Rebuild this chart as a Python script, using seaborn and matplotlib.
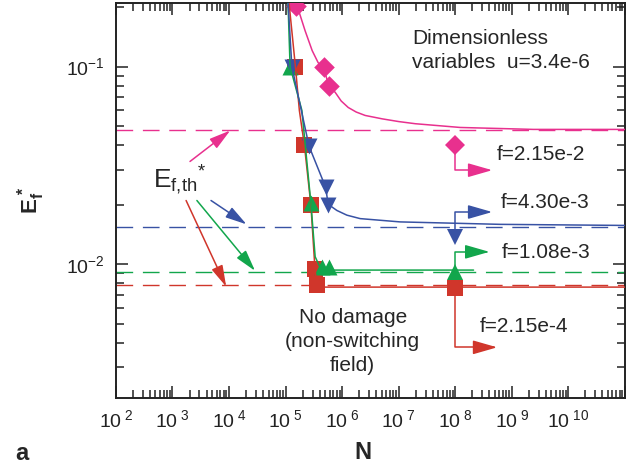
import numpy as np
import pandas as pd
import seaborn as sns
import matplotlib.pyplot as plt
from matplotlib.ticker import FixedLocator, LogLocator, NullFormatter

# ---- data (N, E_f*) ----
red_N = [1.14e5, 1.49e5, 1.75e5, 2.15e5, 2.8e5, 3.3e5, 3.55e5, 5.0e5, 1e11]
red_E = [0.215, 0.1, 0.060, 0.0399, 0.0199, 0.0095, 0.00783, 0.00765, 0.00765]
red_mk_N = [1.49e5, 2.15e5, 2.8e5, 3.3e5, 3.55e5]
red_mk_E = [0.1, 0.0399, 0.0199, 0.0095, 0.00783]

green_N = [1.1e5, 1.2e5, 1.94e5, 2.8e5, 3.33e5, 4.08e5, 6.1e5, 2.1e8]
green_E = [0.215, 0.1, 0.060, 0.0203, 0.0109, 0.0096, 0.00933, 0.00933]
green_mk_N = [1.2e5, 2.8e5, 4.4e5, 5.9e5]
green_mk_E = [0.1, 0.0203, 0.0097, 0.0097]

blue_N = [1.1e5, 1.29e5, 2.6e5, 5.1e5, 5.65e5, 8.05e5, 1.21e6, 2.08e6, 1.06e7, 6.3e8, 1e11]
blue_E = [0.215, 0.1, 0.0395, 0.0245, 0.0201, 0.0187, 0.0177, 0.0170, 0.01636, 0.0159, 0.0157]
blue_mk_N = [1.29e5, 2.6e5, 5.1e5, 5.7e5]
blue_mk_E = [0.1, 0.0395, 0.0245, 0.0199]

pink_N = [1.45e5, 1.6e5, 2.21e5, 2.95e5, 3.76e5, 4.61e5, 5.89e5, 7.5e5, 9.6e5, 1.28e6,
          1.77e6, 2.55e6, 5.1e6, 1.0e7, 1.96e7, 1.22e8, 2.4e9, 1e11]
pink_E = [0.23, 0.203, 0.152, 0.1205, 0.1047, 0.1, 0.0792, 0.0742, 0.0670, 0.0621,
          0.0589, 0.0566, 0.0544, 0.0527, 0.0514, 0.0492, 0.0481, 0.0481]
pink_mk_N = [1.55e5, 4.7e5, 5.9e5]
pink_mk_E = [0.203, 0.1, 0.0796]

# threshold levels E_f,th*
thresholds = {"pink": 0.0475, "blue": 0.01546, "green": 0.00914, "red": 0.00783}

# key markers at N=1e8 with elbow arrows to labels
key_N = 1e8
key_E = {"pink": 0.0399, "blue": 0.0138, "green": 0.0091, "red": 0.0076}
elbow_E = {"pink": 0.0299, "blue": 0.01836, "green": 0.01154, "red": 0.00379}
tip_N = {"pink": 4.5e8, "blue": 4.5e8, "green": 4.0e8, "red": 5.5e8}
labels = {"pink": "f=2.15e-2", "blue": "f=4.30e-3", "green": "f=1.08e-3", "red": "f=2.15e-4"}
label_pos = {"pink": (5.4e8, 0.0360), "blue": (6.25e8, 0.0206),
             "green": (6.5e8, 0.0115), "red": (2.76e8, 0.00481)}

# arrows from the E_f,th* label to the threshold lines
th_start = {"pink": (2.04e3, 0.0331), "blue": (4.8e3, 0.0210),
            "green": (2.7e3, 0.0210), "red": (1.74e3, 0.0210)}
th_end = {"pink": (1.05e4, 0.0475), "blue": (2.04e4, 0.0159),
          "green": (2.88e4, 0.00925), "red": (8.9e3, 0.00769)}

colors = {"pink": "#E8308E", "blue": "#3852A4", "green": "#12A64C", "red": "#D0362B"}
markers = {"pink": "D", "blue": "v", "green": "^", "red": "s"}
msize = {"pink": 10.5, "blue": 11.5, "green": 11.5, "red": 11.3}

x_ticks = [10.0 ** k for k in range(2, 11)]
y_ticks = [1e-2, 1e-1]

sns.set_theme(style="ticks")
plt.rcParams["font.family"] = ["Liberation Sans", "DejaVu Sans"]
plt.rcParams["mathtext.fontset"] = "custom"
plt.rcParams["mathtext.rm"] = "Liberation Sans"
plt.rcParams["mathtext.it"] = "Liberation Sans:italic"
plt.rcParams["mathtext.bf"] = "Liberation Sans:bold"

fig = plt.figure(figsize=(6.44, 4.68), dpi=100)
ax = fig.add_axes([0.180, 0.1496, 0.7905, 0.844])

series = {
    "red": (red_N, red_E, red_mk_N, red_mk_E),
    "green": (green_N, green_E, green_mk_N, green_mk_E),
    "blue": (blue_N, blue_E, blue_mk_N, blue_mk_E),
    "pink": (pink_N, pink_E, pink_mk_N, pink_mk_E),
}

for name, thr in thresholds.items():
    ax.axhline(thr, color=colors[name], lw=1.0, dashes=(12, 7), zorder=1)

for name, (cN, cE, mN, mE) in series.items():
    c = colors[name]
    sns.scatterplot(x=mN, y=mE, ax=ax, marker=markers[name], s=msize[name] ** 2,
                    color=c, linewidth=0, zorder=3)
    sns.lineplot(x=cN, y=cE, ax=ax, sort=False, estimator=None, color=c, lw=1.1,
                 zorder=4)

# key markers + elbow arrows + labels
for name in labels:
    c = colors[name]
    ax.annotate("", xy=(tip_N[name], elbow_E[name]), xytext=(key_N, key_E[name]),
                arrowprops=dict(arrowstyle="-|>,head_length=1.5,head_width=0.43",
                                connectionstyle="angle,angleA=90,angleB=0,rad=0",
                                color=c, lw=1.1, shrinkA=0, shrinkB=0,
                                mutation_scale=10), zorder=2)
    ax.plot([key_N], [key_E[name]], marker=markers[name], ms=msize[name], color=c,
            mew=0, ls="none", zorder=5)
    lx, ly = label_pos[name]
    ax.text(lx, ly, labels[name], fontsize=15, ha="left", va="center")

# E_f,th* arrows
for name in th_start:
    ax.annotate("", xy=th_end[name], xytext=th_start[name],
                arrowprops=dict(arrowstyle="-|>,head_length=1.3,head_width=0.36",
                                color=colors[name], lw=1.1, shrinkA=0, shrinkB=0,
                                mutation_scale=10))
ax.text(452, 0.0242, r"$\mathregular{E_{f{,}th}{}^{*}}$", fontsize=19,
        ha="left", va="baseline")

ax.text(1.74e7, 0.1556, "Dimensionless\nvariables  u=3.4e-6", fontsize=15,
        ha="left", va="top", linespacing=1.35)
ax.text(1.53e6, 0.0060, "No damage\n(non-switching\nfield)", fontsize=15,
        ha="center", va="top", multialignment="center", linespacing=1.35)

ax.set_xscale("log")
ax.set_yscale("log")
ax.set_xlim(1e2, 1e11)
ax.set_ylim(2.1e-3, 0.21)
ax.xaxis.set_major_locator(FixedLocator(x_ticks + [1e11]))
ax.set_xticklabels([r"$\mathregular{10^{\ %d}}$" % k for k in range(2, 11)] + [""])
ax.xaxis.set_minor_locator(LogLocator(base=10, subs=np.arange(2, 10), numticks=20))
ax.xaxis.set_minor_formatter(NullFormatter())
ax.yaxis.set_major_locator(FixedLocator(y_ticks))
ax.set_yticklabels([r"$\mathregular{10^{-2}}$", r"$\mathregular{10^{-1}}$"])
ax.yaxis.set_minor_locator(LogLocator(base=10, subs=np.arange(2, 10), numticks=20))
ax.yaxis.set_minor_formatter(NullFormatter())
ax.set_xlabel("")
ax.set_ylabel("")

ax.tick_params(which="both", direction="in", top=True, right=True, colors="#222222",
               labelsize=14, width=1.1)
ax.tick_params(which="major", length=8.5, pad=8)
ax.tick_params(which="minor", length=5.5)
for sp in ax.spines.values():
    sp.set_visible(True)
    sp.set_linewidth(1.4)
    sp.set_color("#222222")

fig.text(0.564, 0.034, "N", fontsize=17, fontweight="bold", ha="center", va="center")
fig.text(0.048, 0.573, r"$\mathbf{E_f^{\,*}}$", fontsize=16, rotation=90,
         ha="center", va="center")
fig.text(0.023, 0.017, "a", fontsize=17, fontweight="bold", ha="left", va="baseline")

fig.savefig("out.png", dpi=100)
